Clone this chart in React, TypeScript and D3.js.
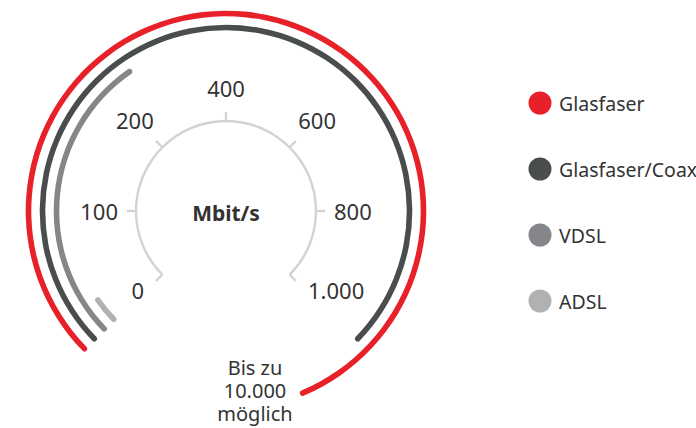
import React, { useRef, useEffect } from 'react';
import * as d3 from 'd3';

const series = ['Glasfaser', 'Glasfaser/Coax', 'VDSL', 'ADSL'];
const maxSpeeds = [10000, 1000, 250, 25];
const colors = ['#e8202a', '#4a4d4e', '#858689', '#b0b1b3'];
const tickValues = [0, 100, 200, 400, 600, 800, 1000];
const unitLabel = 'Mbit/s';
const noteLines = ['Bis zu', '10.000', 'möglich'];

const width = 696;
const height = 428;

const App = () => {
    const svgRef = useRef<SVGSVGElement | null>(null);

    useEffect(() => {
        const svg = d3.select(svgRef.current);
        svg.selectAll('*').remove();

        const cx = 226;
        const cy = 211;
        const font = "'Noto Sans', 'Open Sans', sans-serif";
        const deg = Math.PI / 180;

        // gauge scale is piecewise, 10.000 runs past the end of the dial
        const angle = d3
            .scaleLinear()
            .domain([0, 100, 200, 400, 600, 800, 1000, 10000])
            .range([-135, -90, -45, 0, 45, 90, 135, 158].map((d) => d * deg));

        const radius = d3.scaleOrdinal<string, number>().domain(series).range([197.5, 183.5, 169.5, 156]);
        const color = d3.scaleOrdinal<string, string>().domain(series).range(colors);

        const fmt = d3.formatLocale({ decimal: ',', thousands: '.', grouping: [3], currency: ['', '€'] }).format(',');

        const g = svg.append('g').attr('transform', `translate(${cx},${cy})`);

        // inner dial
        const dialR = 90;
        g.append('path')
            .attr('d', d3.arc()({ innerRadius: dialR - 1.2, outerRadius: dialR + 1.2, startAngle: angle(0), endAngle: angle(1000) }) as string)
            .attr('fill', '#d3d3d3');

        g.selectAll('line.tick')
            .data(tickValues)
            .join('line')
            .attr('class', 'tick')
            .attr('x1', (d) => Math.sin(angle(d)) * dialR)
            .attr('y1', (d) => -Math.cos(angle(d)) * dialR)
            .attr('x2', (d) => Math.sin(angle(d)) * (dialR + 9))
            .attr('y2', (d) => -Math.cos(angle(d)) * (dialR + 9))
            .attr('stroke', '#d3d3d3')
            .attr('stroke-width', 2.4);

        const labels = g
            .selectAll('text.lbl')
            .data(tickValues)
            .join('text')
            .attr('class', 'lbl')
            .attr('font-family', font)
            .attr('font-size', 22)
            .attr('fill', '#333')
            .attr('text-anchor', 'middle')
            .attr('dominant-baseline', 'central')
            .text((d) => fmt(d));

        labels.each(function (d) {
            const el = this as SVGTextElement;
            const w = el.getComputedTextLength();
            const a = angle(d);
            const sx = Math.sin(a);
            const sy = -Math.cos(a);
            if (Math.abs(a) > 120 * deg) {
                // end labels sit level, beside the dial ends
                d3.select(el).attr('x', sx * 116 + Math.sign(sx) * w / 2).attr('y', sy * 116 - 3);
            } else {
                const r = 108 + 0.5 * (Math.abs(sx) * w + sy * sy * 30);
                d3.select(el).attr('x', sx * r).attr('y', sy * r);
            }
        });

        g.append('text')
            .attr('y', 2)
            .attr('text-anchor', 'middle')
            .attr('dominant-baseline', 'central')
            .attr('font-family', font)
            .attr('font-weight', 700)
            .attr('font-size', 21)
            .attr('fill', '#333')
            .text(unitLabel);

        // speed arcs
        const arc = d3.arc<string>()
            .innerRadius((d) => radius(d) - 2.8)
            .outerRadius((d) => radius(d) + 2.8)
            .cornerRadius(2.8)
            .startAngle(angle(0))
            .endAngle((d) => angle(maxSpeeds[series.indexOf(d)]));

        g.selectAll('path.speed')
            .data(series)
            .join('path')
            .attr('class', 'speed')
            .attr('d', (d) => arc(d) as string)
            .attr('fill', (d) => color(d));

        // note under the dial
        g.append('text')
            .attr('font-family', font)
            .attr('font-size', 20)
            .attr('fill', '#333')
            .attr('text-anchor', 'middle')
            .selectAll('tspan')
            .data(noteLines)
            .join('tspan')
            .attr('x', 29)
            .attr('y', (d, i) => 164 + i * 23)
            .text((d) => d);

        // legend
        const legend = svg
            .append('g')
            .attr('transform', 'translate(540,103)')
            .selectAll('g')
            .data(series)
            .join('g')
            .attr('transform', (d, i) => `translate(0,${i * 66})`);

        legend.append('circle').attr('r', 11.5).attr('fill', (d) => color(d));
        legend
            .append('text')
            .attr('x', 19)
            .attr('dominant-baseline', 'central')
            .attr('font-family', font)
            .attr('font-size', 19.5)
            .attr('fill', '#333')
            .text((d) => d);
    }, []);

    return <svg ref={svgRef} width={width} height={height} style={{ position: 'absolute', left: 0, top: 0 }}></svg>;
};

export default App;
